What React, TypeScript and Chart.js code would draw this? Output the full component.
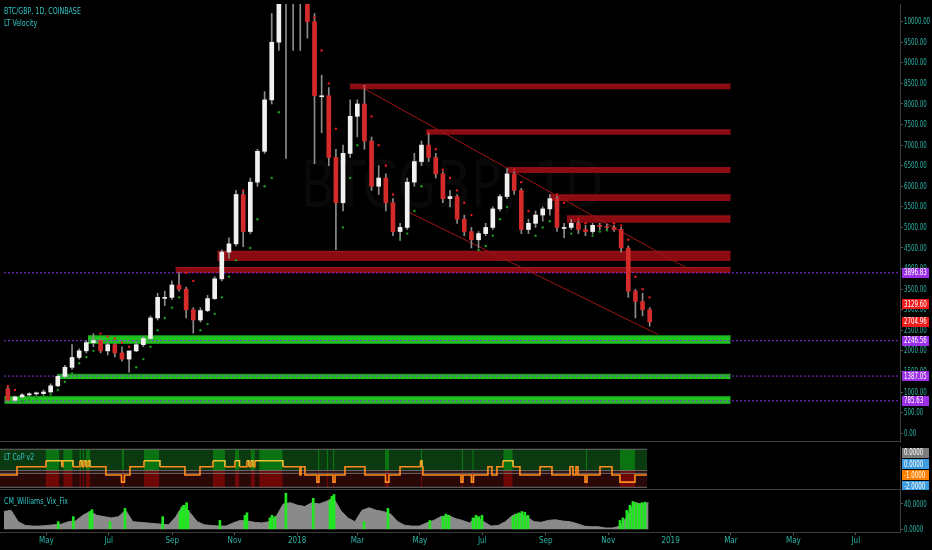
import React, { useEffect, useRef } from 'react';
import { Chart, registerables } from 'chart.js';

Chart.register(...registerables);

const FONT = "'Liberation Sans Narrow', 'DejaVu Sans Condensed', 'Liberation Sans', Arial, sans-serif";
const TEAL = '#2bb5a8';
const TITLE_TEAL = '#35c4c4';
const AXIS_LINE = '#3c3c3c';
const TICK_MARK = '#5a5a5a';
const SQUEEZE = 0.76;

// x axis unit: days since 1 May 2017
const EPOCH = Date.UTC(2017, 4, 1);
const dayOf = (iso: string): number => {
  const [y, m, d] = iso.split('-').map(Number);
  return (Date.UTC(y, m - 1, d) - EPOCH) / 86400000;
};

const X_MIN = -45.3;
const X_MAX = 834.2;
const FIRST_WEEK = '2017-03-17';
const DATA_END = '2018-12-09';

const monthTickDates = ['2017-05-01', '2017-07-01', '2017-09-01', '2017-11-01', '2018-01-01', '2018-03-01', '2018-05-01', '2018-07-01', '2018-09-01', '2018-11-01', '2019-01-01', '2019-03-01', '2019-05-01', '2019-07-01'];
const monthTickLabels = ['May', 'Jul', 'Sep', 'Nov', '2018', 'Mar', 'May', 'Jul', 'Sep', 'Nov', '2019', 'Mar', 'May', 'Jul'];

const priceTicks = [0, 500, 1000, 1500, 2000, 2500, 3000, 3500, 4000, 4500, 5000, 5500, 6000, 6500, 7000, 7500, 8000, 8500, 9000, 9500, 10000];

// weekly candles (BTC/GBP)
const candleOpen = [1080, 800, 880, 930, 955, 960, 1000, 1150, 1380, 1600,
  1840, 2000, 2200, 2250, 2000, 2150, 1950, 1800, 2000, 2150,
  2300, 2800, 3300, 3300, 3600, 3500, 3000, 2750, 2980, 3270,
  3750, 4400, 4600, 5800, 4900, 6100, 6850, 8100, 9500, 13000,
  10500, 10800, 11500, 10000, 8200, 8200, 6700, 5600, 6800, 7700,
  8000, 7100, 6000, 6200, 5600, 4900, 5000, 6100, 6600, 7000,
  6700, 6300, 5700, 5750, 5200, 4900, 4700, 4850, 5000, 5450,
  5750, 6300, 5900, 4950, 5100, 5300, 5450, 5700, 5000, 5000,
  5100, 4950, 4900, 5050, 5020, 5000, 4950, 4500, 3450, 3200,
  3000];
const candleHigh = [1120, 900, 960, 980, 1000, 1050, 1200, 1400, 1650, 2150,
  2050, 2250, 2420, 2300, 2200, 2180, 2100, 1850, 2200, 2350,
  2850, 3400, 3450, 3700, 3900, 3550, 3050, 3050, 3350, 3800,
  4450, 4750, 5900, 5900, 6200, 6900, 8300, 10200, 13500, 14500,
  11800, 12500, 12000, 10200, 8700, 8400, 6900, 7000, 8100, 8100,
  8450, 7200, 6500, 6300, 5700, 5100, 6200, 6800, 7100, 7300,
  6800, 6350, 5900, 5800, 5300, 5000, 4900, 5100, 5500, 5800,
  6430, 6350, 5950, 5200, 5400, 5500, 5800, 5750, 5100, 5200,
  5150, 5050, 5100, 5100, 5080, 5050, 5000, 4550, 3500, 3400,
  3050];
const candleLow = [780, 760, 860, 900, 920, 940, 990, 1130, 1350, 1550,
  1800, 1950, 2100, 1950, 1900, 1850, 1750, 1480, 1980, 2100,
  2280, 2750, 3100, 3250, 3450, 2800, 2430, 2700, 2950, 3250,
  3700, 4250, 4550, 4530, 4850, 6000, 6800, 8000, 9300, 6680,
  9300, 9300, 9600, 6550, 7300, 6500, 4460, 5400, 6700, 7200,
  6900, 5900, 5800, 5400, 4800, 4700, 4950, 6000, 6500, 6600,
  6200, 5600, 5500, 5100, 4800, 4500, 4500, 4800, 4950, 5400,
  5700, 5800, 4850, 4850, 5000, 5150, 5300, 4900, 4750, 4950,
  4850, 4800, 4850, 4950, 4950, 4900, 4400, 3300, 2800, 2850,
  2600];
const candleClose = [800, 880, 930, 955, 960, 1000, 1150, 1380, 1600, 1840,
  2000, 2200, 2250, 2000, 2150, 1950, 1800, 2000, 2150, 2300,
  2800, 3300, 3300, 3600, 3500, 3000, 2750, 2980, 3270, 3750,
  4400, 4600, 5800, 4900, 6100, 6850, 8100, 9500, 13000, 10500,
  10800, 11500, 10000, 8200, 8200, 6700, 5600, 6800, 7700, 8000,
  7100, 6000, 6200, 5600, 4900, 5000, 6100, 6600, 7000, 6700,
  6300, 5700, 5750, 5200, 4900, 4700, 4850, 5000, 5450, 5750,
  6300, 5900, 4950, 5100, 5300, 5450, 5700, 5000, 5000, 5100,
  4950, 4900, 5050, 5020, 5000, 4950, 4500, 3450, 3200, 3000,
  2704.96];
// velocity stop dots (one per week)
const sarValues: (number | null)[] = [1150, 1050, 780, 820, 860, 900, 940, 1050, 1250, 1450,
  1700, 1850, 2000, 2420, 2350, 2300, 2200, 2100, 1600, 1800,
  2100, 2500, 2800, 3050, 3300, 3900, 3700, 2500, 2650, 2900,
  3300, 3800, 4200, 5900, 4500, 5200, 6000, 6200, 7800, null,
  null, null, null, 10100, 9300, 8500, 7400, 5000, 6200, 7000,
  8400, 7700, 7000, 6500, 5800, 4700, 4850, 5400, 6000, 7300,
  6900, 6400, 6200, 5900, 5600, 5300, 4450, 4550, 4800, 5200,
  5500, 6400, 6100, 5400, 4800, 5000, 5150, 5800, 5600, 4850,
  5200, 5100, 4800, 4900, 4930, 5100, 5050, 4700, 3800, 3500,
  3300];

// support / resistance zones
const zoneStart = ['2018-02-19', '2018-05-05', '2018-07-24', '2018-09-03', '2018-09-20', '2017-10-12', '2017-09-01', '2017-06-07', '2017-05-08', '2017-03-17'];
const zoneTop = [8480, 7370, 6450, 5790, 5280, 4420, 4025, 2365, 1430, 885];
const zoneBottom = [8360, 7250, 6320, 5640, 5115, 4185, 3890, 2170, 1315, 715];
const zoneKind = ['res', 'res', 'res', 'res', 'res', 'res', 'res', 'sup', 'sup', 'sup'];
const ZONE_END = '2019-02-28';

const levelValues = [3896.83, 2246.56, 1387.05, 785.63];
const lastValues = [3129.6, 2704.96];

const channelStart = ['2018-03-05', '2018-04-14'];
const channelStartValue = [8377, 5418];
const channelEnd = ['2019-01-18', '2018-12-19'];
const channelEndValue = [3986, 2394];

// LT CoP v2
const copStepDays = [-45.3, -28.7, -0.4, 15.2, 16.2, 26, 32.8, 34.8, 36.7, 38.7, 40.7, 42.6, 58.2, 73.4, 76.3, 81.7, 95.4, 111, 135.4, 150.1, 162.8, 174.5, 184.3, 188.7, 196, 198, 199.9, 201.9, 203.8, 231.2, 247.8, 248.8, 252.7, 264.4, 266.4, 280.1, 282.1, 291.8, 311.3, 331.4, 334.8, 345.6, 365.6, 367, 368, 405.2, 407.1, 415.4, 417.4, 431.5, 435.4, 440.3, 446.2, 456, 462.8, 482.4, 494.1, 511.7, 514.6, 517.6, 519.5, 526.4, 528.3, 541, 552.7, 560.5, 575.2, 587];
const copStepLevels = [-1, -0.25, 0.3, -0.25, 0.3, -0.25, 0.3, -0.25, 0.3, -0.25, 0.3, -0.25, -1, -1.65, -1, -0.25, 0.3, -0.25, -1, -0.25, 0.3, -0.25, 0.3, -0.25, 0.3, -0.25, 0.3, -0.25, 0.3, -0.25, -1, -0.25, -1, -1.65, -1, -1.65, -1, -0.25, -1, -1.65, -1, -0.25, 0.3, -0.25, -1, -1.65, -1, -1.65, -1, -0.25, -1, -0.25, 0.3, -0.25, -1, -0.25, -1, -0.25, -1, -0.25, -1, -1.65, -1, -0.25, -1, -1.65, -1, -1];
const copBrightStart = [-0.7, 16.5, 32.3, 35.3, 38.7, 73.6, 95.4, 162.8, 184.3, 199.6, 208, 265.4, 273.9, 280, 330.9, 365.8, 405.8, 416.2, 446.5, 527, 560.5];
const copBrightEnd = [12.6, 25.7, 33.8, 36.8, 42.6, 75.8, 110.3, 174.5, 188.5, 203.8, 230.9, 266.9, 275.4, 281.5, 335.1, 367.3, 407.3, 417.7, 455.7, 528.5, 575.2];
const copGuideLevels = [1.34, -0.6, -0.85, -2.12];
const copLabelValues = [1.03, 0, -1, -2];
const copLabelTexts = ['0.0000', '0.0000', '-1.0000', '-2.0000'];
const copLabelColors = ['#7c7c7c', '#3d9be0', '#ff8000', '#3d9be0'];

// CM_Williams_Vix_Fix (weekly envelope + green spikes)
const vixValues = [28, 30, 12, 6, 5, 5, 6, 7, 8, 12,
  13, 22, 28, 22, 20, 18, 20, 30, 12, 11,
  10, 9, 8, 7, 20, 38, 26, 12, 7, 6,
  5, 5, 10, 14, 13, 11, 10, 12, 20, 40,
  42, 38, 36, 42, 40, 44, 50, 30, 18, 12,
  30, 34, 30, 28, 24, 12, 6, 5, 5, 10,
  14, 20, 22, 17, 14, 10, 20, 12, 5, 6,
  12, 22, 25, 20, 12, 11, 14, 15, 13, 12,
  9, 5, 4, 4, 2, 2, 5, 20, 42, 40,
  42];
const vixSpikeDays = [11.6, 26.3, 42.6, 44.6, 62.2, 76.8, 113.7, 130.6, 132.5, 134.5, 137.1, 138.4, 169.6, 194.1, 196, 218.5, 220.5, 223.4, 234.1, 260.8, 277.1, 279.1, 281.1, 310.4, 333.8, 374.8, 387.5, 390.5, 393.4, 416.9, 419.8, 422.7, 425.7, 455.9, 458.9, 461.8, 464.7, 467.6, 470.6, 560.5, 563.4, 567.3, 570.3, 573.2, 576.1, 579.1, 582, 585];
const vixSpikeValues = [12, 20, 28, 31, 12, 33, 20, 28, 35, 38, 42, 30, 14, 22, 26, 18, 22, 20, 57, 49, 45, 52, 55, 12, 33, 14, 20, 24, 22, 18, 22, 20, 22, 20, 24, 26, 28, 27, 22, 14, 18, 30, 38, 44, 42, 40, 42, 43];
const vixTicks = [0, 40];

const weekCenter = (i: number) => dayOf(FIRST_WEEK) + 7 * i + 3.5;
const font = (size: number, weight = 'normal') => ({ family: FONT, size, weight });

const hiddenX = {
  type: 'linear', min: X_MIN, max: X_MAX, offset: false, display: false, grid: { offset: false },
};

const fixWidth = (s: any) => { s.width = 32; };

const drawText = (ctx: any, text: string, x: number, y: number, size: number, color: string, sx: number) => {
  ctx.save();
  ctx.font = `${size}px ${FONT}`;
  ctx.fillStyle = color;
  ctx.textBaseline = 'middle';
  ctx.textAlign = 'left';
  ctx.translate(x, y);
  ctx.scale(sx, 1);
  ctx.fillText(text, 0, 0);
  ctx.restore();
};

const textPlugin = (id: string, lines: { text: string; y: number }[]) => ({
  id,
  afterDraw(chart: any) {
    lines.forEach((l) => drawText(chart.ctx, l.text, 4, l.y, 9, TITLE_TEAL, 0.78));
  },
});

// right-axis labels (compressed like the original) + value boxes on top
const axisPlugin = (
  id: string,
  tickValues: number[],
  fmt: (v: number) => string,
  items: () => { value: number; text: string; bg: string }[],
  separator: boolean,
) => ({
  id,
  afterDraw(chart: any) {
    const { ctx, chartArea } = chart;
    const y = chart.scales.y;
    ctx.save();
    if (separator) {
      ctx.strokeStyle = AXIS_LINE;
      ctx.lineWidth = 1;
      ctx.beginPath();
      ctx.moveTo(0, chartArea.bottom - 0.5);
      ctx.lineTo(chartArea.right, chartArea.bottom - 0.5);
      ctx.stroke();
    }
    tickValues.forEach((v) => {
      drawText(ctx, fmt(v), chartArea.right + 4, y.getPixelForValue(v) + 0.5, 8, TEAL, SQUEEZE);
    });
    items().forEach((it) => {
      const py = y.getPixelForValue(it.value);
      ctx.fillStyle = it.bg;
      ctx.fillRect(chartArea.right + 2, Math.round(py - 5), 27, 10);
      drawText(ctx, it.text, chartArea.right + 4, py + 0.5, 8, '#ffffff', SQUEEZE);
    });
    ctx.restore();
  },
});

const watermark = {
  id: 'watermark',
  beforeDatasetsDraw(chart: any) {
    const { ctx, chartArea } = chart;
    ctx.save();
    ctx.font = `64px ${FONT}`;
    const text = 'BTCGBP, 1D';
    const w = ctx.measureText(text).width;
    const target = 303;
    ctx.translate((chartArea.left + chartArea.right) / 2, 190);
    ctx.scale(target / w, 1);
    ctx.fillStyle = 'rgba(255,255,255,0.035)';
    ctx.textAlign = 'center';
    ctx.textBaseline = 'middle';
    ctx.fillText(text, 0, 0);
    ctx.restore();
  },
};

const hiddenTickAxis = (extra: any) => ({
  type: 'linear',
  position: 'right',
  afterFit: fixWidth,
  ticks: { display: false },
  grid: { display: true, drawOnChartArea: false, drawTicks: true, tickLength: 3, color: TICK_MARK },
  border: { display: true, color: AXIS_LINE },
  ...extra,
});

const baseOptions = {
  responsive: false,
  animation: false,
  devicePixelRatio: 1,
  events: [],
  layout: { padding: 0 },
  plugins: { legend: { display: false }, tooltip: { enabled: false } },
};

function mainConfig(): any {
  const xs = candleOpen.map((_, i) => weekCenter(i));
  const zoneSets = zoneStart.map((s, i) => ({
    type: 'line',
    data: [{ x: dayOf(s), y: zoneTop[i] }, { x: dayOf(ZONE_END), y: zoneTop[i] }],
    fill: { value: zoneBottom[i] },
    backgroundColor: zoneKind[i] === 'res' ? '#8a0c12' : '#1fc21f',
    borderColor: zoneKind[i] === 'res' ? '#a5161d' : '#17a817',
    borderWidth: 1,
    pointRadius: 0,
    order: 30,
  }));
  const levelSets = levelValues.map((v) => ({
    type: 'line',
    data: [{ x: X_MIN, y: v }, { x: X_MAX, y: v }],
    borderColor: '#8a2be2',
    borderDash: [2, 2],
    borderWidth: 1,
    pointRadius: 0,
    fill: false,
    order: 25,
  }));
  const channelSets = channelStart.map((s, i) => ({
    type: 'line',
    data: [{ x: dayOf(s), y: channelStartValue[i] }, { x: dayOf(channelEnd[i]), y: channelEndValue[i] }],
    borderColor: '#a01414',
    borderWidth: 1,
    pointRadius: 0,
    fill: false,
    order: 20,
  }));
  const sarPts: { x: number; y: number }[] = [];
  const sarColors: string[] = [];
  sarValues.forEach((v, i) => {
    if (v === null) return;
    sarPts.push({ x: xs[i], y: v });
    sarColors.push(v > candleClose[i] ? '#e31b1b' : '#1f9a1f');
  });
  return {
    type: 'bar',
    data: {
      datasets: [
        ...zoneSets,
        ...levelSets,
        ...channelSets,
        {
          type: 'bar',
          data: xs.map((x, i) => ({ x, y: [candleLow[i], candleHigh[i]] })),
          backgroundColor: '#8c8c8c',
          barThickness: 1,
          grouped: false,
          order: 10,
        },
        {
          type: 'bar',
          data: xs.map((x, i) => ({ x, y: [candleOpen[i], candleClose[i]] })),
          backgroundColor: candleOpen.map((o, i) => (candleClose[i] >= o ? '#f3f0f0' : '#d42a2a')),
          barThickness: 4,
          minBarLength: 1,
          grouped: false,
          order: 9,
        },
        {
          type: 'scatter',
          data: sarPts,
          pointBackgroundColor: sarColors,
          pointBorderWidth: 0,
          pointRadius: 1.2,
          order: 5,
        },
      ],
    },
    options: {
      ...baseOptions,
      scales: {
        x: hiddenX,
        y: hiddenTickAxis({
          min: -215,
          max: 10430,
          afterBuildTicks: (s: any) => { s.ticks = priceTicks.map((value) => ({ value })); },
        }),
      },
    },
    plugins: [
      watermark,
      textPlugin('mainTitles', [{ text: 'BTC/GBP, 1D, COINBASE', y: 12 }, { text: 'LT Velocity', y: 24 }]),
      axisPlugin('mainAxis', priceTicks, (v) => v.toFixed(2), () => [
        ...levelValues.map((v) => ({ value: v, text: v.toFixed(2), bg: '#9b30e8' })),
        ...lastValues.map((v) => ({ value: v, text: v.toFixed(2), bg: '#f01c1c' })),
      ], true),
    ],
  };
}

function copConfig(): any {
  const end = dayOf(DATA_END);
  const band = (s: number, e: number, top: number, bottom: number, color: string, order: number) => ({
    type: 'line',
    data: [{ x: s, y: top }, { x: e, y: top }],
    fill: { value: bottom },
    backgroundColor: color,
    borderWidth: 0,
    pointRadius: 0,
    order,
  });
  return {
    type: 'line',
    data: {
      datasets: [
        band(X_MIN, end, 1.34, -0.6, '#0c3a10', 40),
        band(X_MIN, end, -0.6, -2.12, '#2a0808', 40),
        ...copBrightStart.map((s, i) => band(s, copBrightEnd[i], 1.34, -0.6, '#0b7412', 35)),
        ...copBrightStart.map((s, i) => band(s, copBrightEnd[i], -0.6, -2.12, '#700707', 35)),
        ...copGuideLevels.map((v) => ({
          type: 'line',
          data: [{ x: X_MIN, y: v }, { x: end, y: v }],
          borderColor: '#6e6e6e',
          borderWidth: 1,
          pointRadius: 0,
          fill: false,
          order: 20,
        })),
        {
          type: 'line',
          data: copStepDays.map((x, i) => ({ x, y: copStepLevels[i] })),
          stepped: 'before',
          borderWidth: 1.6,
          pointRadius: 0,
          fill: false,
          borderColor: '#ff8c1a',
          segment: { borderColor: (c: any) => (c.p0.parsed.y > 0 ? '#efc233' : '#ff8c1a') },
          order: 1,
        },
      ],
    },
    options: {
      ...baseOptions,
      scales: {
        x: hiddenX,
        y: {
          type: 'linear',
          position: 'right',
          min: -2.364,
          max: 1.636,
          afterFit: fixWidth,
          ticks: { display: false },
          grid: { display: false },
          border: { display: true, color: AXIS_LINE },
        },
      },
    },
    plugins: [
      textPlugin('copTitle', [{ text: 'LT CoP v2', y: 12 }]),
      axisPlugin('copAxis', [], (v) => v.toFixed(4), () => copLabelValues.map((v, i) => ({ value: v, text: copLabelTexts[i], bg: copLabelColors[i] })), true),
    ],
  };
}

function vixConfig(): any {
  const xs = vixValues.map((_, i) => weekCenter(i));
  const tickDays = monthTickDates.map(dayOf);
  return {
    type: 'bar',
    data: {
      datasets: [
        {
          type: 'line',
          data: xs.map((x, i) => ({ x, y: vixValues[i] })),
          fill: 'origin',
          backgroundColor: '#8a8a8a',
          borderColor: '#8a8a8a',
          borderWidth: 1,
          pointRadius: 0,
          tension: 0,
          order: 10,
        },
        {
          type: 'bar',
          data: vixSpikeDays.map((x, i) => ({ x, y: vixSpikeValues[i] })),
          backgroundColor: '#22e622',
          barThickness: 2,
          grouped: false,
          order: 5,
        },
      ],
    },
    options: {
      ...baseOptions,
      scales: {
        x: {
          type: 'linear',
          min: X_MIN,
          max: X_MAX,
          offset: false,
          afterBuildTicks: (s: any) => { s.ticks = tickDays.map((value) => ({ value })); },
          afterFit: (s: any) => { s.height = 18; },
          ticks: {
            color: TEAL,
            font: font(8),
            padding: 1,
            autoSkip: false,
            maxRotation: 0,
            callback: (_v: any, i: number) => monthTickLabels[i],
          },
          grid: { display: true, offset: false, drawOnChartArea: false, drawTicks: true, tickLength: 3, color: TICK_MARK },
          border: { display: true, color: AXIS_LINE },
        },
        y: hiddenTickAxis({
          min: -4.3,
          max: 62.1,
          afterBuildTicks: (s: any) => { s.ticks = vixTicks.map((value) => ({ value })); },
        }),
      },
    },
    plugins: [
      textPlugin('vixTitle', [{ text: 'CM_Williams_Vix_Fix', y: 12 }]),
      axisPlugin('vixAxis', vixTicks, (v) => v.toFixed(4), () => [], false),
    ],
  };
}

export default function App() {
  const mainRef = useRef<HTMLCanvasElement>(null);
  const copRef = useRef<HTMLCanvasElement>(null);
  const vixRef = useRef<HTMLCanvasElement>(null);

  useEffect(() => {
    document.body.style.margin = '0';
    document.body.style.background = '#000';
    const charts = [
      new Chart(mainRef.current as HTMLCanvasElement, mainConfig()),
      new Chart(copRef.current as HTMLCanvasElement, copConfig()),
      new Chart(vixRef.current as HTMLCanvasElement, vixConfig()),
    ];
    return () => charts.forEach((c) => c.destroy());
  }, []);

  return (
    <div style={{ width: 932, height: 550, background: '#000', overflow: 'hidden' }}>
      <canvas ref={mainRef} width={932} height={446} style={{ display: 'block' }} />
      <canvas ref={copRef} width={932} height={44} style={{ display: 'block' }} />
      <canvas ref={vixRef} width={932} height={60} style={{ display: 'block' }} />
    </div>
  );
}
